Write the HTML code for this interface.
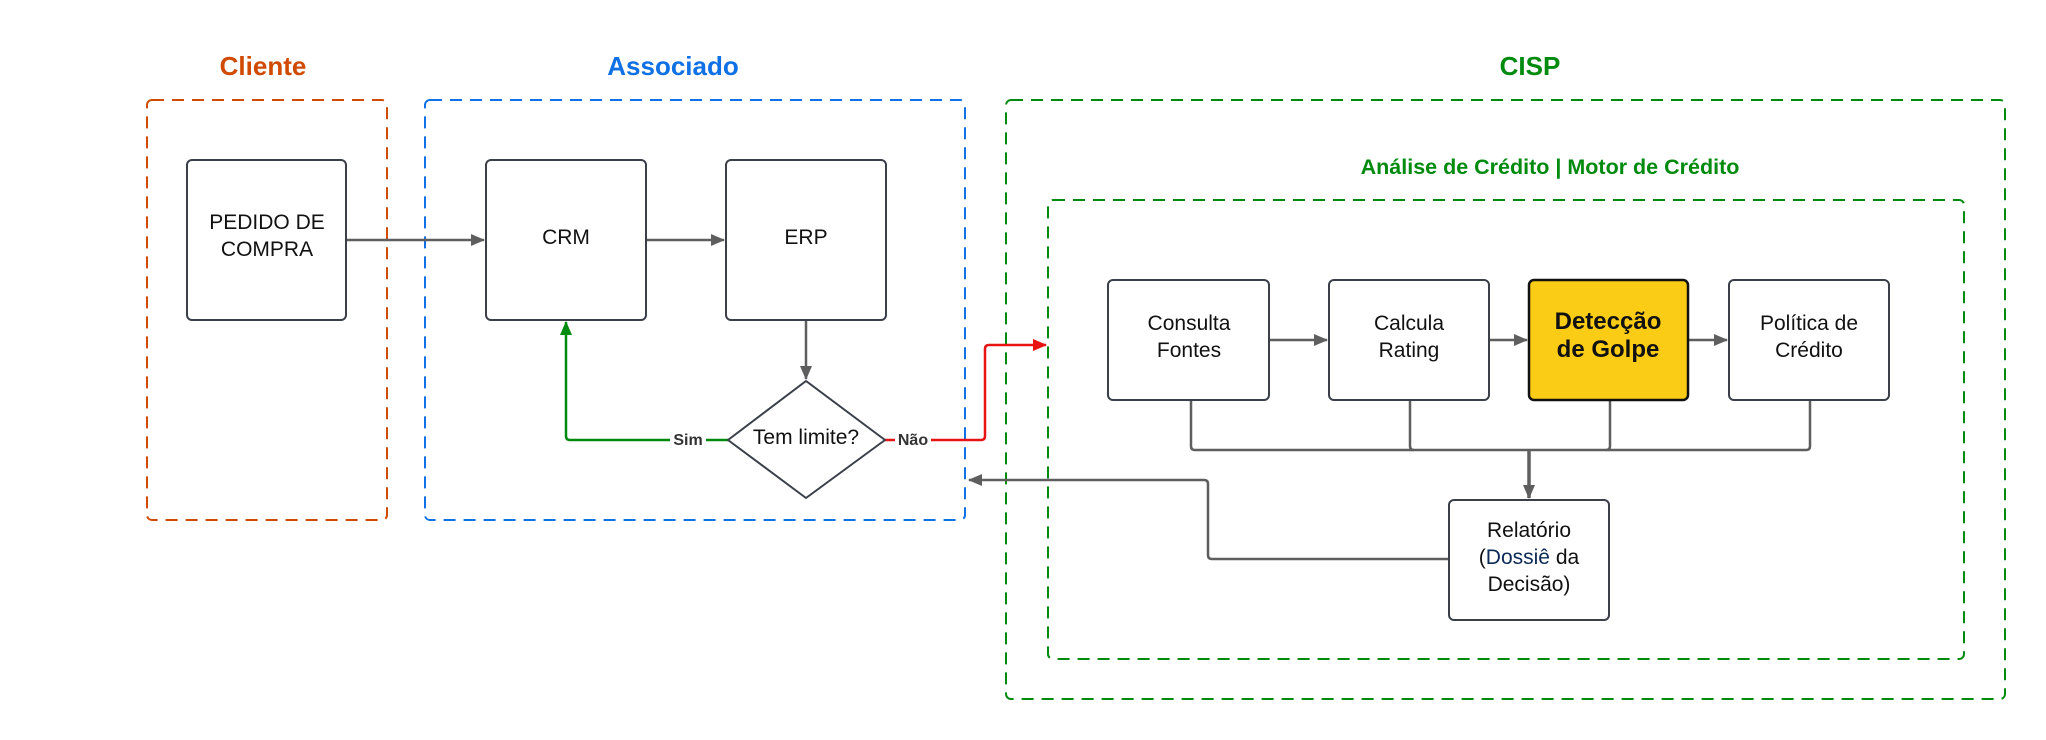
<!DOCTYPE html>
<html><head><meta charset="utf-8"><style>
html,body{margin:0;padding:0;background:#fff;}
svg{display:block;}
text{font-family:"Liberation Sans",Arial,sans-serif;}
</style></head><body>
<svg width="2046" height="740" viewBox="0 0 2046 740" xmlns="http://www.w3.org/2000/svg">
<defs>
<marker id="ag" markerWidth="14" markerHeight="12" refX="13" refY="6" orient="auto" markerUnits="userSpaceOnUse" viewBox="0 0 14 12"><path d="M0,0 L14,6 L0,12 z" fill="#5e5e5e"/></marker>
<marker id="agr" markerWidth="14" markerHeight="12" refX="13" refY="6" orient="auto" markerUnits="userSpaceOnUse" viewBox="0 0 14 12"><path d="M0,0 L14,6 L0,12 z" fill="#008a0e"/></marker>
<marker id="ar" markerWidth="14" markerHeight="12" refX="13" refY="6" orient="auto" markerUnits="userSpaceOnUse" viewBox="0 0 14 12"><path d="M0,0 L14,6 L0,12 z" fill="#e81313"/></marker>
</defs>

<rect x="147" y="100" width="240" height="420" rx="5" fill="none" stroke="#d04a02" stroke-width="2" stroke-dasharray="12,8"/>
<rect x="425" y="100" width="540" height="420" rx="5" fill="none" stroke="#1071e5" stroke-width="2" stroke-dasharray="12,8"/>
<rect x="1006" y="100" width="999" height="599" rx="5" fill="none" stroke="#008a0e" stroke-width="2" stroke-dasharray="12,8"/>
<rect x="1048" y="200" width="916" height="459" rx="5" fill="none" stroke="#008a0e" stroke-width="2" stroke-dasharray="12,8"/>

<text x="263" y="75" text-anchor="middle" font-size="26" font-weight="bold" fill="#d04a02">Cliente</text>
<text x="673" y="75" text-anchor="middle" font-size="26" font-weight="bold" fill="#1071e5">Associado</text>
<text x="1530" y="75" text-anchor="middle" font-size="26" font-weight="bold" fill="#008a0e">CISP</text>
<text x="1550" y="174" text-anchor="middle" font-size="21.5" font-weight="bold" fill="#008a0e">Análise de Crédito | Motor de Crédito</text>

<g fill="none" stroke="#5e5e5e" stroke-width="2.5">
<path d="M346 240 H484" marker-end="url(#ag)"/>
<path d="M646 240 H724" marker-end="url(#ag)"/>
<path d="M806 320 V379" marker-end="url(#ag)"/>
<path d="M1269 340 H1327" marker-end="url(#ag)"/>
<path d="M1489 340 H1527" marker-end="url(#ag)"/>
<path d="M1688 340 H1727" marker-end="url(#ag)"/>
<path d="M1191 400 V446 Q1191 450 1195 450 H1806 Q1810 450 1810 446 V400"/>
<path d="M1410 400 V446 Q1410 450 1414 450"/>
<path d="M1610 400 V446 Q1610 450 1606 450"/>
<path d="M1529 450 V498" stroke-width="3.5" marker-end="url(#ag)"/>
<path d="M1448 559 H1212 Q1208 559 1208 555 V484 Q1208 480 1204 480 H969" marker-end="url(#ag)"/>
</g>
<path d="M728 440 H570 Q566 440 566 436 V322" fill="none" stroke="#008a0e" stroke-width="2.5" marker-end="url(#agr)"/>
<path d="M885 440 H981 Q985 440 985 436 V349 Q985 345 989 345 H1046" fill="none" stroke="#e81313" stroke-width="2.5" marker-end="url(#ar)"/>
<rect x="670" y="430" width="36" height="20" fill="#fff"/>
<text x="688" y="445" text-anchor="middle" font-size="16" font-weight="bold" fill="#333">Sim</text>
<rect x="895" y="430" width="36" height="20" fill="#fff"/>
<text x="913" y="445" text-anchor="middle" font-size="16" font-weight="bold" fill="#333">Não</text>

<g stroke="#3a3f4a" stroke-width="2" fill="#fff">
<rect x="187" y="160" width="159" height="160" rx="5"/>
<rect x="486" y="160" width="160" height="160" rx="5"/>
<rect x="726" y="160" width="160" height="160" rx="5"/>
<path d="M806 381 L885 440 L806 498 L728 440 Z" stroke-linejoin="round"/>
<rect x="1108" y="280" width="161" height="120" rx="5"/>
<rect x="1329" y="280" width="160" height="120" rx="5"/>
<rect x="1529" y="280" width="159" height="120" rx="5" fill="#facc15" stroke="#111" stroke-width="2.5"/>
<rect x="1729" y="280" width="160" height="120" rx="5"/>
<rect x="1449" y="500" width="160" height="120" rx="5"/>
</g>
<g font-size="21" fill="#111" text-anchor="middle">
<text x="267" y="229">PEDIDO DE</text>
<text x="267" y="256">COMPRA</text>
<text x="566" y="244">CRM</text>
<text x="806" y="244">ERP</text>
<text x="806" y="444">Tem limite?</text>
<text x="1189" y="330">Consulta</text>
<text x="1189" y="357">Fontes</text>
<text x="1409" y="330">Calcula</text>
<text x="1409" y="357">Rating</text>
<text x="1809" y="330">Política de</text>
<text x="1809" y="357">Crédito</text>
<text x="1529" y="537">Relatório</text>
<text x="1529" y="564">(<tspan fill="#0b2a55">Dossiê</tspan> da</text>
<text x="1529" y="591">Decisão)</text>
<text x="1608" y="329" font-size="24" font-weight="bold">Detecção</text>
<text x="1608" y="357" font-size="24" font-weight="bold">de Golpe</text>
</g>
</svg>
</body></html>
